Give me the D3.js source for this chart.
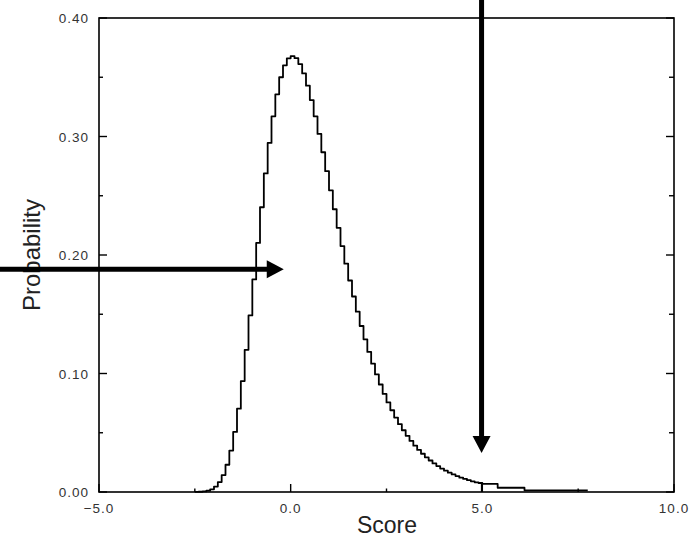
<!DOCTYPE html>
<html>
<head>
<meta charset="utf-8">
<script src="https://cdn.jsdelivr.net/npm/d3@7"></script>
<style>
  body { margin: 0; background: #fff; }
  svg { display: block; }
</style>
</head>
<body>
<script>
// score bins (bin start) and probability
var scores = [-2.5, -2.4, -2.3, -2.2, -2.1, -2.0, -1.9, -1.8, -1.7, -1.6,
              -1.5, -1.4, -1.3, -1.2, -1.1, -1.0, -0.9, -0.8, -0.7, -0.6,
              -0.5, -0.4, -0.3, -0.2, -0.1, 0.0, 0.1, 0.2, 0.3, 0.4,
              0.5, 0.6, 0.7, 0.8, 0.9, 1.0, 1.1, 1.2, 1.3, 1.4,
              1.5, 1.6, 1.7, 1.8, 1.9, 2.0, 2.1, 2.2, 2.3, 2.4,
              2.5, 2.6, 2.7, 2.8, 2.9, 3.0, 3.1, 3.2, 3.3, 3.4,
              3.5, 3.6, 3.7, 3.8, 3.9, 4.0, 4.1, 4.2, 4.3, 4.4,
              4.5, 4.6, 4.7, 4.8, 4.9, 5.0, 5.4, 6.1, 7.75];
var probs = [0.0001, 0.0002, 0.0005, 0.0011, 0.0023, 0.0046, 0.0084, 0.0143, 0.0230, 0.0350,
             0.0507, 0.0703, 0.0936, 0.1200, 0.1490, 0.1794, 0.2102, 0.2403, 0.2688, 0.2946,
             0.3170, 0.3356, 0.3500, 0.3601, 0.3660, 0.3679, 0.3661, 0.3611, 0.3532, 0.3429,
             0.3307, 0.3170, 0.3022, 0.2867, 0.2707, 0.2546, 0.2386, 0.2229, 0.2075, 0.1927,
             0.1785, 0.1650, 0.1522, 0.1401, 0.1288, 0.1182, 0.1083, 0.0992, 0.0907, 0.0828,
             0.0756, 0.0690, 0.0628, 0.0572, 0.0521, 0.0474, 0.0431, 0.0391, 0.0355, 0.0323,
             0.0293, 0.0266, 0.0241, 0.0219, 0.0198, 0.0180, 0.0163, 0.0148, 0.0134, 0.0121,
             0.0110, 0.0100, 0.0090, 0.0082, 0.0076, 0.0068, 0.0036, 0.0014, 0.0014];

var xTicks = [-5, 0, 5, 10];
var xMinor = [-2.5, 2.5, 7.5];
var yTicks = [0, 0.1, 0.2, 0.3, 0.4];
var yMinor = [0.05, 0.15, 0.25, 0.35];

// arrows: [x1, y1, x2, y2] in data units
var hArrow = [-7.6, 0.188, -0.18, 0.188];
var vArrow = [4.98, 0.42, 4.98, 0.033];
var marker = 4.98;

var W = 697, H = 539;
var m = {left: 99, right: 23, top: 18, bottom: 47};

var svg = d3.select('body').append('svg')
    .attr('width', W)
    .attr('height', H);

var x = d3.scaleLinear().domain([-5, 10]).range([m.left, W - m.right]);
var y = d3.scaleLinear().domain([0, 0.4]).range([H - m.bottom, m.top]);

var data = scores.map(function(s, i){ return [s, probs[i]]; });

// frame
svg.append('rect')
    .attr('x', x(-5)).attr('y', y(0.4))
    .attr('width', x(10) - x(-5)).attr('height', y(0) - y(0.4))
    .attr('fill', 'none').attr('stroke', '#000').attr('stroke-width', 1.6);

// ticks drawn inward
var tickG = svg.append('g').attr('stroke', '#000').attr('stroke-width', 1.4);
xTicks.forEach(function(t){
    tickG.append('line').attr('x1', x(t)).attr('x2', x(t)).attr('y1', y(0)).attr('y2', y(0) - 8);
});
xMinor.forEach(function(t){
    tickG.append('line').attr('x1', x(t)).attr('x2', x(t)).attr('y1', y(0)).attr('y2', y(0) - 3.5);
});
yTicks.forEach(function(t){
    tickG.append('line').attr('x1', x(-5)).attr('x2', x(-5) + 8).attr('y1', y(t)).attr('y2', y(t));
    tickG.append('line').attr('x1', x(10)).attr('x2', x(10) - 8).attr('y1', y(t)).attr('y2', y(t));
});
yMinor.forEach(function(t){
    tickG.append('line').attr('x1', x(-5)).attr('x2', x(-5) + 4).attr('y1', y(t)).attr('y2', y(t));
    tickG.append('line').attr('x1', x(10)).attr('x2', x(10) - 5).attr('y1', y(t)).attr('y2', y(t));
});

// tick labels
var lab = svg.append('g')
    .attr('font-family', 'Liberation Sans, Arial, sans-serif')
    .attr('font-size', 13.5)
    .attr('letter-spacing', 1)
    .attr('fill', '#333');
xTicks.forEach(function(t){
    lab.append('text').attr('x', x(t)).attr('y', 513)
        .attr('text-anchor', 'middle')
        .text(t < 0 ? '\u2212' + d3.format('.1f')(-t) : d3.format('.1f')(t));
});
yTicks.forEach(function(t){
    lab.append('text').attr('x', 89).attr('y', y(t) + 5)
        .attr('text-anchor', 'end')
        .text(d3.format('.2f')(t));
});

// axis titles
svg.append('text')
    .attr('x', 387).attr('y', 533)
    .attr('text-anchor', 'middle')
    .attr('font-family', 'Liberation Sans, Arial, sans-serif')
    .attr('font-size', 23)
    .attr('fill', '#222')
    .text('Score');
svg.append('text')
    .attr('transform', 'translate(40,' + y(0.2) + ') rotate(-90)')
    .attr('text-anchor', 'middle')
    .attr('font-family', 'Liberation Sans, Arial, sans-serif')
    .attr('font-size', 24)
    .attr('fill', '#222')
    .text('Probability');

// curve
var line = d3.line()
    .x(function(d){ return x(d[0]); })
    .y(function(d){ return y(d[1]); })
    .curve(d3.curveStepAfter);

svg.append('path')
    .datum(data)
    .attr('d', line)
    .attr('fill', 'none')
    .attr('stroke', '#000')
    .attr('stroke-width', 1.8)
    .attr('stroke-linejoin', 'round');

svg.append('line')
    .attr('x1', x(marker)).attr('x2', x(marker))
    .attr('y1', y(0)).attr('y2', y(0.0079))
    .attr('stroke', '#000').attr('stroke-width', 1.4);

// arrows
function arrow(a){
    var x1 = x(a[0]), y1 = y(a[1]), x2 = x(a[2]), y2 = y(a[3]);
    var len = Math.sqrt((x2 - x1) * (x2 - x1) + (y2 - y1) * (y2 - y1));
    var ux = (x2 - x1) / len, uy = (y2 - y1) / len;
    var hl = 17, hw = 9;
    var bx = x2 - ux * hl, by = y2 - uy * hl;
    svg.append('line')
        .attr('x1', x1).attr('y1', y1).attr('x2', bx + ux).attr('y2', by + uy)
        .attr('stroke', '#000').attr('stroke-width', 5);
    svg.append('path')
        .attr('d', 'M' + x2 + ',' + y2 +
                   'L' + (bx - uy * hw) + ',' + (by + ux * hw) +
                   'L' + (bx + uy * hw) + ',' + (by - ux * hw) + 'Z')
        .attr('fill', '#000');
}
arrow(hArrow);
arrow(vArrow);
</script>
</body>
</html>
